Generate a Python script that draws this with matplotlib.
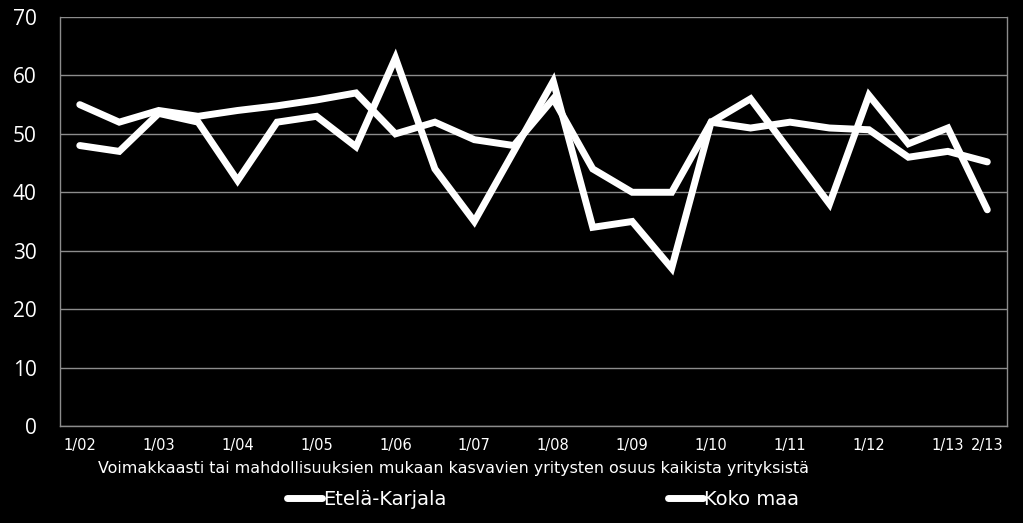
import matplotlib
matplotlib.use("Agg")
import matplotlib.pyplot as plt
from matplotlib import font_manager

periods = ["1/02", "2/02", "1/03", "2/03", "1/04", "2/04", "1/05", "2/05",
           "1/06", "2/06", "1/07", "2/07", "1/08", "2/08", "1/09", "2/09",
           "1/10", "2/10", "1/11", "2/11", "1/12", "2/12", "1/13", "2/13"]
etela_karjala = [48, 47, 53.5, 52, 42, 52, 53, 47.8,
                 63, 44, 35, 47, 59, 34, 35, 27,
                 52, 56, 47, 38, 56.6, 48.3, 51, 37]
koko_maa = [55, 52, 54, 53, 54, 54.8, 55.8, 57,
            50, 52, 49, 48, 56, 44, 40, 40,
            52, 51, 52, 51, 50.7, 46, 47, 45.2]
tick_labels = ["1/02", "1/03", "1/04", "1/05", "1/06", "1/07", "1/08",
               "1/09", "1/10", "1/11", "1/12", "1/13", "2/13"]
series_names = ["Etelä-Karjala", "Koko maa"]
subtitle = "Voimakkaasti tai mahdollisuuksien mukaan kasvavien yritysten osuus kaikista yrityksistä"

names = {f.name for f in font_manager.fontManager.ttflist}
narrow = "Liberation Sans Narrow" if "Liberation Sans Narrow" in names else "DejaVu Sans"

fig = plt.figure(figsize=(10.23, 5.23), dpi=100, facecolor="black")
ax = fig.add_axes([0.0587, 0.1855, 0.9257, 0.782], facecolor="black")

x = list(range(len(periods)))
l1, = ax.plot(x, etela_karjala, color="white", lw=5.0, solid_capstyle="round",
              solid_joinstyle="miter", label=series_names[0], zorder=3)
l2, = ax.plot(x, koko_maa, color="white", lw=5.0, solid_capstyle="round",
              solid_joinstyle="miter", label=series_names[1], zorder=3)

ax.set_xlim(-0.5, 23.5)
ax.set_ylim(0, 70)
ax.set_yticks(range(0, 71, 10))
ax.grid(axis="y", color="#8c8c8c", lw=1.0)
ax.set_axisbelow(True)
for s in ax.spines.values():
    s.set_color("#8c8c8c")
    s.set_linewidth(1.0)
ax.spines["top"].set_visible(False)

tick_pos = [periods.index(t) for t in tick_labels]
ax.set_xticks(tick_pos)
ax.set_xticklabels(tick_labels, family=narrow, fontsize=10.5, color="white")
ax.tick_params(axis="x", length=0, pad=9)
ax.tick_params(axis="y", length=0, pad=17, labelsize=15, labelcolor="white")
for t in ax.get_yticklabels():
    t.set_family("Open Sans")

fig.text(0.443, 0.105, subtitle, ha="center", va="center", color="white",
         family=narrow, fontsize=11.4)

leg = fig.legend(handles=[l1, l2], loc="center", bbox_to_anchor=(0.531, 0.045),
                 ncol=2, frameon=False, handlelength=1.8, handletextpad=0.05,
                 columnspacing=11.4, prop={"family": narrow, "size": 14})
for t in leg.get_texts():
    t.set_color("white")

fig.savefig("out.png", dpi=100, facecolor="black")
